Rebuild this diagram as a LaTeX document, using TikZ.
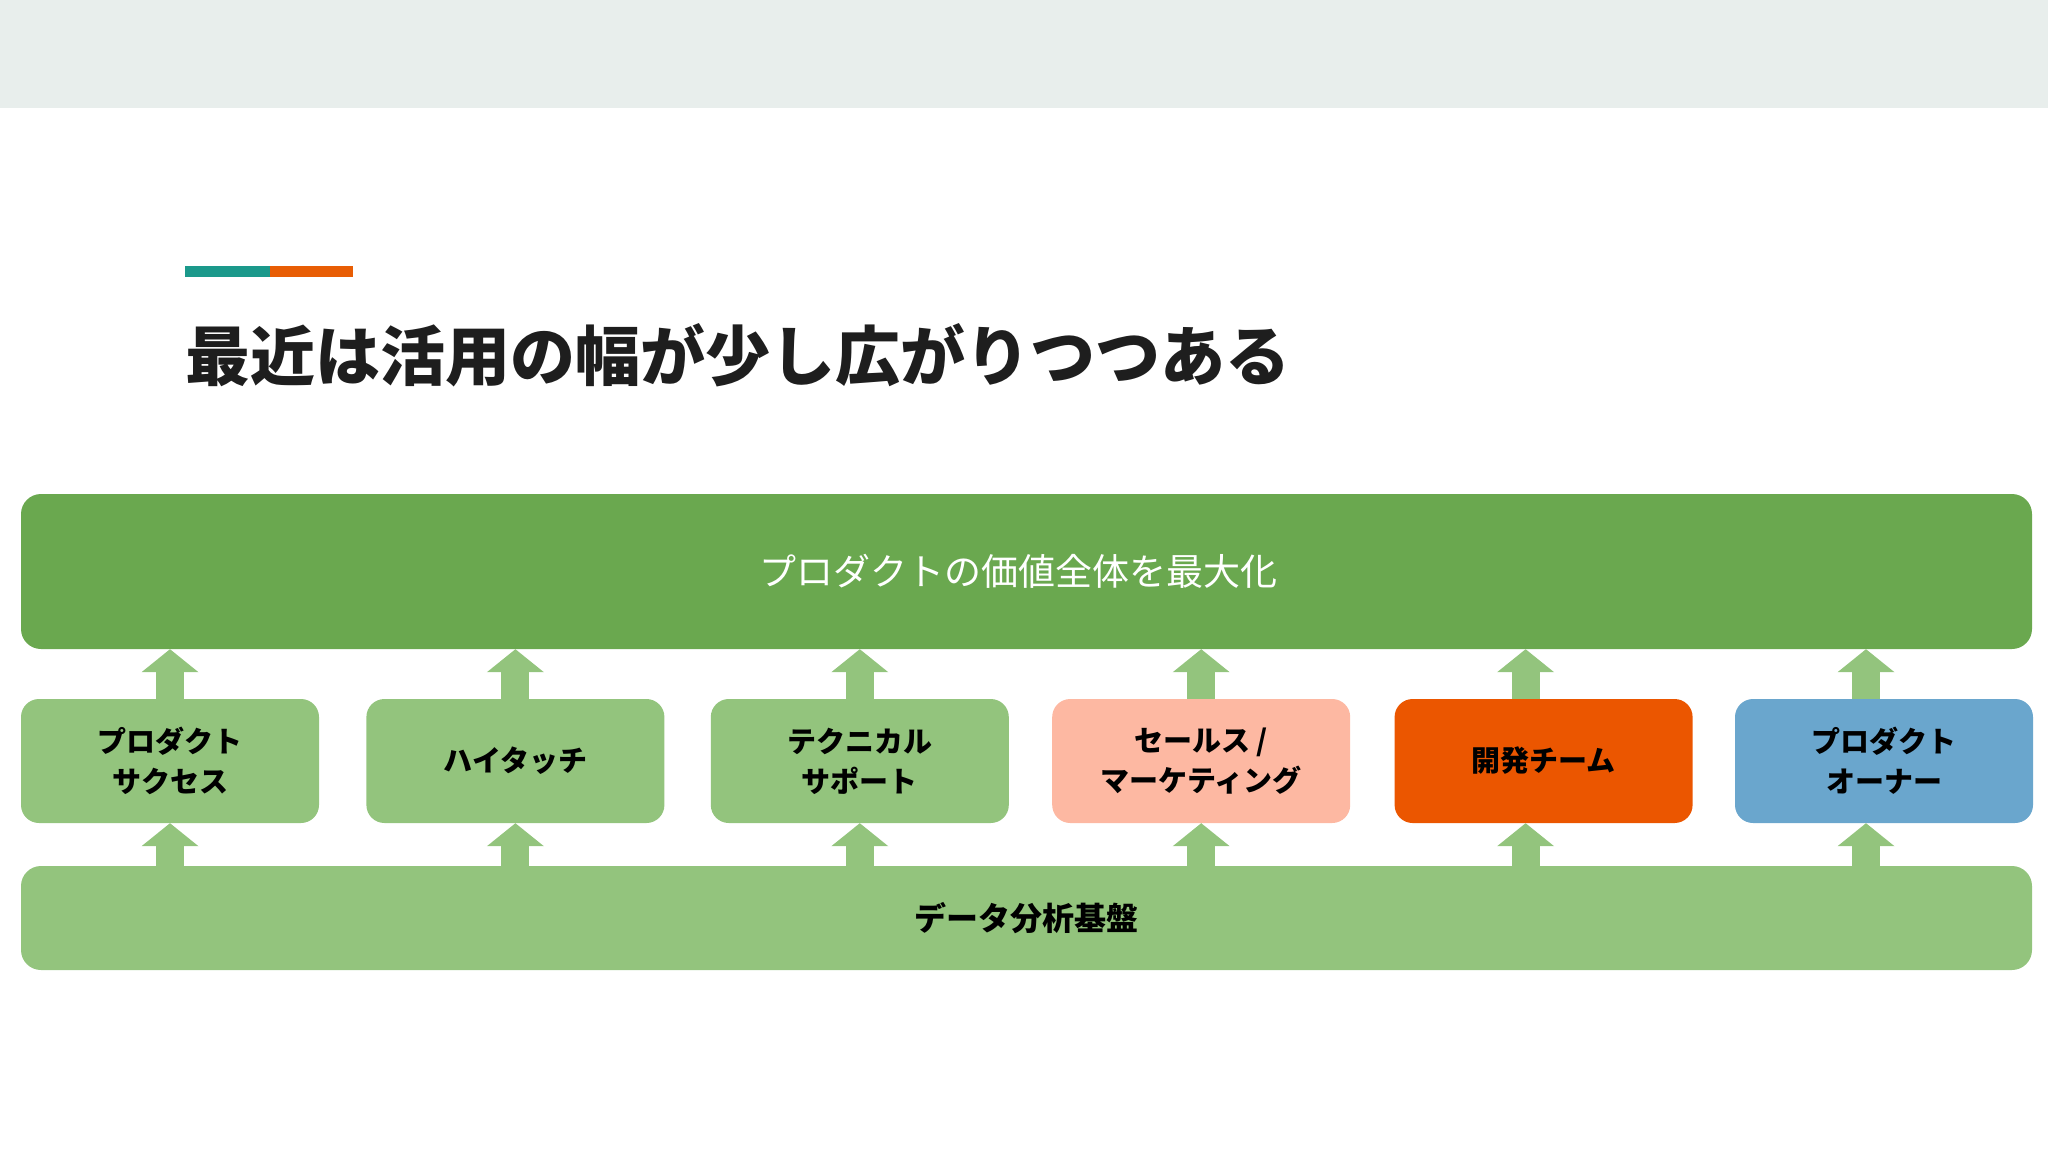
\documentclass[tikz,border=0pt]{standalone}
\usepackage{fontspec}
\setmainfont{Noto Sans CJK JP}
\usepackage{xcolor}
\usepackage{tikz}
\usetikzlibrary{positioning, arrows.meta}

\definecolor{bandgray}{HTML}{E8EEEC}
\definecolor{barteal}{HTML}{1B998B}
\definecolor{barorange}{HTML}{E85D04}
\definecolor{titleblack}{HTML}{1E1E1E}
\definecolor{valuegreen}{HTML}{6AA84F}
\definecolor{leafgreen}{HTML}{93C47D}
\definecolor{salesred}{HTML}{FDB8A2}
\definecolor{devorange}{HTML}{EB5600}
\definecolor{ownerblue}{HTML}{6AA6CD}

\begin{document}
\begin{tikzpicture}[x=1pt,y=-1pt,
		box/.style={rounded corners=18pt, minimum width=298pt, minimum height=124pt, inner sep=0pt, align=center, font=\fontsize{29pt}{40pt}\selectfont\bfseries},
		uparr/.style={draw=leafgreen, line width=28pt, -{Triangle[width=57pt, length=23pt, line width=0pt]}}]
	\useasboundingbox (0,0) rectangle (2048,1152);
	% header band and accent bar
	\fill [bandgray] (0,0) rectangle (2048,108);
	\fill [barteal] (185,266) rectangle (270,277);
	\fill [barorange] (270,266) rectangle (353,277);
	\node [anchor=west, inner sep=0pt, text=titleblack, font=\fontsize{65pt}{78pt}\selectfont\bfseries] (title) at (185,355) {最近は活用の幅が少し広がりつつある};
	% layers
	\node [box, fill=valuegreen, minimum width=2011pt, minimum height=155pt, rounded corners=20pt] (value) at (1026.5,571.5) {};
	\node [text=white, font=\fontsize{37pt}{44pt}\selectfont, inner sep=0pt] (valuetext) at ([xshift=-8pt]value.center) {プロダクトの価値全体を最大化};
	\node [box, fill=leafgreen, minimum width=2011pt, minimum height=104pt, rounded corners=20pt, font=\fontsize{32pt}{40pt}\selectfont\bfseries] (base) at (1026.5,918) {データ分析基盤};
	\node [box, fill=leafgreen] (success) at (170,761) {プロダクト\\サクセス};
	\node [box, fill=leafgreen, right=47pt of success] (touch) {ハイタッチ};
	\node [box, fill=leafgreen, right=46pt of touch] (tech) {テクニカル\\サポート};
	\node [box, fill=salesred, right=43pt of tech] (sales) {セールス /\\マーケティング};
	\node [box, fill=devorange, right=44pt of sales] (dev) {開発チーム};
	\node [box, fill=ownerblue, right=42pt of dev] (owner) {プロダクト\\オーナー};
	% arrows
	\foreach \n/\dx in {success/0, touch/0, tech/0, sales/0, dev/-18, owner/-18} {
		\coordinate (\n-top) at ([xshift=\dx pt]\n.north);
		\coordinate (\n-bot) at ([xshift=\dx pt]\n.south);
		\draw [uparr] (\n-top) -- (\n-top |- value.south);
		\draw [uparr] (\n-bot |- base.north) -- (\n-bot);
	}
\end{tikzpicture}
\end{document}
